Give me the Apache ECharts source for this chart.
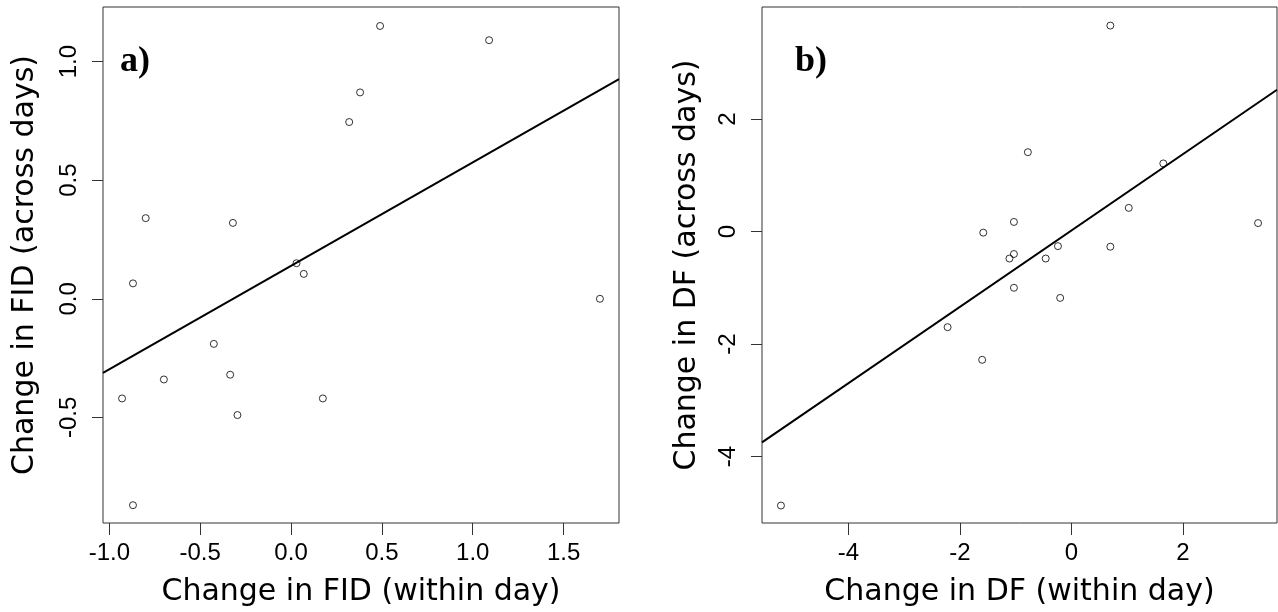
<!DOCTYPE html>
<html>
<head>
<meta charset="utf-8">
<script src="https://cdn.jsdelivr.net/npm/echarts@6/dist/echarts.min.js"></script>
<style>
  html, body { margin: 0; padding: 0; background: #fff; }
  #chart { width: 1278px; height: 612px; }
</style>
</head>
<body>
<div id="chart"></div>
<script>
// panel a) FID
const fidWithin = [0.49, 1.09, 0.38, 0.32, -0.80, -0.32, 0.03, 0.07, -0.87, 1.70, -0.425, -0.335, -0.70, -0.93, 0.175, -0.295, -0.87];
const fidAcross = [1.15, 1.09, 0.87, 0.745, 0.34, 0.32, 0.15, 0.105, 0.065, 0.0, -0.19, -0.32, -0.34, -0.42, -0.42, -0.49, -0.87];
const fidFit = [0.139, 0.436]; // intercept, slope
const fidXTicks = [-1.0, -0.5, 0.0, 0.5, 1.0, 1.5];
const fidYTicks = [-0.5, 0.0, 0.5, 1.0];

// panel b) DF
const dfWithin = [0.70, -0.78, 1.65, 1.03, -1.03, 3.35, -1.58, -0.24, 0.70, -1.03, -1.11, -0.46, -1.03, -0.20, -2.22, -1.60, -5.21];
const dfAcross = [3.66, 1.41, 1.21, 0.42, 0.17, 0.15, -0.02, -0.26, -0.27, -0.40, -0.48, -0.48, -1.00, -1.18, -1.70, -2.28, -4.87];
const dfFit = [0.017, 0.678];
const dfXTicks = [-4, -2, 0, 2];
const dfYTicks = [-4, -2, 0, 2];

// axis extents (R style 4% padding)
const fidXRange = [-1.035, 1.805];
const fidYRange = [-0.945, 1.23];
const dfXRange = [-5.55, 3.69];
const dfYRange = [-5.18, 3.99];

const sans = "DejaVu Sans";
const tickFont = "Liberation Sans";
const boxColor = "#333";

function pairs(xs, ys) {
  return xs.map((x, i) => [x, ys[i]]);
}
function fitLine(fit, range) {
  return range.map(x => [x, fit[0] + fit[1] * x]);
}

function xAxisFor(gridIndex, range, ticks, name, digits) {
  return {
    type: "value",
    gridIndex: gridIndex,
    min: range[0],
    max: range[1],
    name: name,
    nameLocation: "middle",
    nameGap: 54,
    nameTextStyle: { fontFamily: sans, fontSize: 30, color: "#000" },
    axisLine: { show: false, onZero: false },
    splitLine: { show: false },
    axisTick: {
      show: true,
      length: 12,
      customValues: ticks,
      lineStyle: { color: boxColor, width: 1 },
    },
    axisLabel: {
      customValues: ticks,
      margin: 18,
      fontFamily: tickFont,
      fontSize: 24,
      color: "#000",
      formatter: v => v.toFixed(digits),
    },
  };
}

function yAxisFor(gridIndex, range, ticks, name, digits, gap) {
  return {
    type: "value",
    gridIndex: gridIndex,
    min: range[0],
    max: range[1],
    name: name,
    nameLocation: "middle",
    nameGap: gap,
    nameTextStyle: { fontFamily: sans, fontSize: 30, color: "#000" },
    axisLine: { show: false, onZero: false },
    splitLine: { show: false },
    axisTick: {
      show: true,
      length: 11,
      customValues: ticks,
      lineStyle: { color: boxColor, width: 1 },
    },
    axisLabel: {
      customValues: ticks,
      rotate: 90,
      margin: 22,
      fontFamily: tickFont,
      fontSize: 24,
      color: "#000",
      formatter: v => v.toFixed(digits),
    },
  };
}

const pointStyle = {
  color: "rgba(0,0,0,0)",
  borderColor: "#000",
  borderWidth: 1,
};

const chart = echarts.init(document.getElementById("chart"), null, { renderer: "canvas" });

chart.setOption({
  animation: false,
  backgroundColor: "#fff",
  title: [
    {
      text: "a)",
      left: 115,
      top: 39,
      textStyle: { fontFamily: "Liberation Serif", fontWeight: "bold", fontSize: 36, color: "#000" },
    },
    {
      text: "b)",
      left: 790,
      top: 39,
      textStyle: { fontFamily: "Liberation Serif", fontWeight: "bold", fontSize: 36, color: "#000" },
    },
  ],
  grid: [
    { left: 103, top: 7, width: 516, height: 516, show: true, borderColor: boxColor, borderWidth: 1, backgroundColor: "transparent" },
    { left: 762, top: 7, width: 515, height: 516, show: true, borderColor: boxColor, borderWidth: 1, backgroundColor: "transparent" },
  ],
  xAxis: [
    xAxisFor(0, fidXRange, fidXTicks, "Change in FID (within day)", 1),
    xAxisFor(1, dfXRange, dfXTicks, "Change in DF (within day)", 0),
  ],
  yAxis: [
    yAxisFor(0, fidYRange, fidYTicks, "Change in FID (across days)", 1, 63),
    yAxisFor(1, dfYRange, dfYTicks, "Change in DF (across days)", 0, 60),
  ],
  series: [
    {
      type: "scatter",
      xAxisIndex: 0,
      yAxisIndex: 0,
      symbol: "circle",
      symbolSize: 7,
      itemStyle: pointStyle,
      data: pairs(fidWithin, fidAcross),
    },
    {
      type: "line",
      xAxisIndex: 0,
      yAxisIndex: 0,
      showSymbol: false,
      lineStyle: { color: "#000", width: 2 },
      data: fitLine(fidFit, fidXRange),
    },
    {
      type: "scatter",
      xAxisIndex: 1,
      yAxisIndex: 1,
      symbol: "circle",
      symbolSize: 7,
      itemStyle: pointStyle,
      data: pairs(dfWithin, dfAcross),
    },
    {
      type: "line",
      xAxisIndex: 1,
      yAxisIndex: 1,
      showSymbol: false,
      lineStyle: { color: "#000", width: 2 },
      data: fitLine(dfFit, dfXRange),
    },
  ],
});
</script>
</body>
</html>
